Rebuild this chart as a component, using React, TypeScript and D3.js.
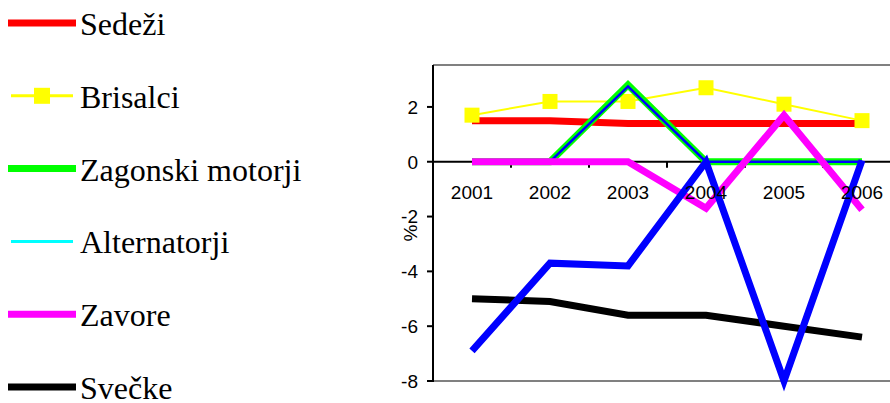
import React from "react";
import * as d3 from "d3";

const years = ["2001", "2002", "2003", "2004", "2005", "2006"];
const sedezi = [1.5, 1.5, 1.4, 1.4, 1.4, 1.4];
const brisalci = [1.7, 2.2, 2.2, 2.7, 2.1, 1.5];
const zagonski = [0, 0, 2.8, 0, 0, 0];
const alternatorji = [0, 0, 2.75, 0, 0, 0];
const zavore = [0, 0, 0, -1.7, 1.7, -1.75];
const svecke = [-5.0, -5.1, -5.6, -5.6, -6.0, -6.4];
const blueSeries = [-6.9, -3.7, -3.8, 0, -8.0, 0.05];
const yTicks = [2, 0, -2, -4, -6, -8];

const legendItems = [
  { name: "Sedeži", color: "#ff0000", width: 7, marker: false },
  { name: "Brisalci", color: "#ffff00", width: 3, marker: true },
  { name: "Zagonski motorji", color: "#00ff00", width: 7, marker: false },
  { name: "Alternatorji", color: "#00ffff", width: 3, marker: false },
  { name: "Zavore", color: "#ff00ff", width: 7, marker: false },
  { name: "Svečke", color: "#000000", width: 7, marker: false },
];

const SANS = "'Liberation Sans', Arial, sans-serif";
const SERIF = "'Liberation Serif', 'Times New Roman', 'DejaVu Serif', serif";

export default function App() {
  const W = 890, H = 403;
  const left = 433, top = 65, bottom = 381;
  const step = 78;
  const x = d3.scaleBand<string>().domain(years).range([left, left + step * years.length]);
  const y = d3.scaleLinear().domain([-8, 3.53]).range([bottom, top]);
  const cx = (d: string) => (x(d) as number) + x.bandwidth() / 2;
  const line = d3.line<number>().x((_, i) => cx(years[i])).y((v) => y(v));

  const series = [
    { data: sedezi, color: "#ff0000", w: 7 },
    { data: brisalci, color: "#ffff00", w: 2 },
    { data: zagonski, color: "#00ff00", w: 7 },
    { data: alternatorji, color: "#0000ff", w: 2.5 },
    { data: zavore, color: "#ff00ff", w: 7 },
    { data: svecke, color: "#000000", w: 7 },
    { data: blueSeries, color: "#0000ff", w: 7 },
  ];

  const legendY0 = 23;
  const legendStep = 72.8;

  return (
    <svg width={W} height={H} style={{ position: "absolute", left: 0, top: 0 }}>
      <rect width={W} height={H} fill="#fff" />
      <line x1={left} x2={W} y1={top} y2={top} stroke="#808080" strokeWidth={2} />
      <line x1={left} x2={W} y1={bottom} y2={bottom} stroke="#808080" strokeWidth={2} />
      <line x1={left} x2={left} y1={top} y2={bottom + 1} stroke="#000" strokeWidth={2} />
      {yTicks.map((t) => (
        <g key={t}>
          <line x1={left - 6} x2={left} y1={y(t)} y2={y(t)} stroke="#000" strokeWidth={2} />
          <text x={418} y={y(t)} dy="0.36em" textAnchor="end" fontFamily={SANS} fontSize={19}>
            {t}
          </text>
        </g>
      ))}
      <text transform={`translate(417,233) rotate(-90)`} textAnchor="middle" fontFamily={SANS} fontSize={19}>
        %
      </text>
      <line x1={left} x2={W} y1={y(0)} y2={y(0)} stroke="#000" strokeWidth={2} />
      {years.map((yr, i) =>
        i > 0 ? (
          <line key={yr} x1={x(yr) as number} x2={x(yr) as number} y1={y(0)} y2={y(0) + 6} stroke="#000" strokeWidth={2} />
        ) : null
      )}
      {series.map((s, i) => (
        <g key={i}>
          <path d={line(s.data) || ""} fill="none" stroke={s.color} strokeWidth={s.w} strokeLinejoin="miter" />
          {s.data === brisalci &&
            s.data.map((v, j) => (
              <rect key={j} x={cx(years[j]) - 7.5} y={y(v) - 7.5} width={15} height={15} fill="#ffff00" />
            ))}
        </g>
      ))}
      {years.map((yr) => (
        <text key={yr} x={cx(yr)} y={199} textAnchor="middle" fontFamily={SANS} fontSize={19}>
          {yr}
        </text>
      ))}
      {legendItems.map((it, i) => {
        const ly = legendY0 + i * legendStep;
        const thin = it.marker || it.width < 5;
        return (
          <g key={it.name}>
            <line x1={thin ? 11 : 8} x2={thin ? 73 : 76} y1={ly} y2={ly} stroke={it.color} strokeWidth={it.width} />
            {it.marker && <rect x={34} y={ly - 8} width={16} height={16} fill={it.color} />}
            <text x={80} y={ly + 12} fontFamily={SERIF} fontSize={32}>
              {it.name}
            </text>
          </g>
        );
      })}
    </svg>
  );
}
